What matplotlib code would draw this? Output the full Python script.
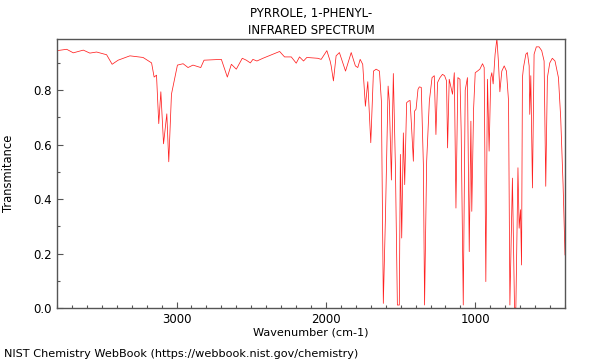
import matplotlib
matplotlib.use('Agg')
import matplotlib.pyplot as plt
from matplotlib.ticker import MultipleLocator, FormatStrFormatter

title = 'PYRROLE, 1-PHENYL-\nINFRARED SPECTRUM'
footer = 'NIST Chemistry WebBook (https://webbook.nist.gov/chemistry)'

wavenumber = [
    3800, 3735, 3691, 3624, 3580, 3535, 3468, 3431, 3391, 3312,
    3224, 3167, 3150, 3134, 3119, 3105, 3087, 3065, 3052, 3034,
    2994, 2956, 2923, 2890, 2838, 2816, 2700, 2660, 2633, 2600,
    2560, 2533, 2506, 2489, 2462, 2422, 2355, 2310, 2277, 2232,
    2199, 2177, 2150, 2128, 2055, 2032, 1994, 1972, 1965, 1950,
    1932, 1910, 1869, 1831, 1803, 1787, 1771, 1754, 1736, 1720,
    1700, 1682, 1664, 1642, 1629, 1616, 1602, 1584, 1576, 1562,
    1549, 1535, 1522, 1509, 1502, 1493, 1482, 1473, 1460, 1447,
    1437, 1428, 1415, 1407, 1397, 1384, 1375, 1362, 1348, 1340,
    1326, 1308, 1290, 1275, 1264, 1253, 1237, 1220, 1206, 1193,
    1186, 1175, 1153, 1141, 1130, 1117, 1103, 1095, 1081, 1068,
    1053, 1041, 1030, 1024, 1012, 1001, 986, 970, 952, 941,
    930, 919, 908, 897, 890, 881, 868, 856, 846, 836,
    823, 807, 792, 778, 769, 752, 738, 729, 715, 707,
    698, 691, 685, 678, 662, 652, 640, 636, 629, 618,
    607, 592, 574, 556, 540, 529, 518, 502, 485, 467,
    444, 429, 413, 400,
]
transmittance = [
    0.945, 0.950, 0.937, 0.947, 0.936, 0.940, 0.930, 0.895, 0.910, 0.926,
    0.920, 0.900, 0.848, 0.855, 0.677, 0.794, 0.603, 0.713, 0.537, 0.785,
    0.892, 0.897, 0.883, 0.892, 0.883, 0.910, 0.913, 0.848, 0.895, 0.877,
    0.917, 0.910, 0.900, 0.913, 0.907, 0.917, 0.932, 0.942, 0.922, 0.922,
    0.899, 0.922, 0.907, 0.920, 0.917, 0.913, 0.945, 0.907, 0.889, 0.834,
    0.926, 0.938, 0.870, 0.938, 0.889, 0.883, 0.913, 0.895, 0.741, 0.831,
    0.607, 0.870, 0.877, 0.870, 0.760, 0.017, 0.330, 0.815, 0.760, 0.470,
    0.861, 0.515, 0.011, 0.011, 0.564, 0.257, 0.643, 0.453, 0.754, 0.760,
    0.762, 0.674, 0.539, 0.723, 0.730, 0.803, 0.812, 0.810, 0.527, 0.011,
    0.539, 0.760, 0.846, 0.853, 0.637, 0.828, 0.846, 0.858, 0.853, 0.834,
    0.588, 0.840, 0.785, 0.864, 0.367, 0.846, 0.840, 0.650, 0.011, 0.800,
    0.846, 0.207, 0.686, 0.355, 0.730, 0.864, 0.870, 0.877, 0.897, 0.883,
    0.097, 0.840, 0.576, 0.846, 0.864, 0.823, 0.932, 0.990, 0.907, 0.794,
    0.870, 0.889, 0.870, 0.760, 0.011, 0.477, 0.000, 0.000, 0.515, 0.293,
    0.361, 0.158, 0.846, 0.883, 0.932, 0.938, 0.889, 0.711, 0.853, 0.441,
    0.932, 0.959, 0.959, 0.945, 0.907, 0.447, 0.846, 0.900, 0.917, 0.907,
    0.846, 0.699, 0.453, 0.195,
]

plt.rcParams['font.family'] = ['DejaVu Sans']
plt.rcParams['font.size'] = 8.5

fig = plt.figure(figsize=(6, 3.6), dpi=100)
ax = fig.add_axes([0.095, 0.1444, 0.8467, 0.7459])

ax.plot(wavenumber, transmittance, color='#ff2020', linewidth=0.55)

ax.set_xlim(3800, 400)
ax.set_ylim(0, 0.986)
ax.xaxis.set_major_locator(MultipleLocator(1000))
ax.xaxis.set_minor_locator(MultipleLocator(100))
ax.yaxis.set_major_locator(MultipleLocator(0.2))
ax.yaxis.set_minor_locator(MultipleLocator(0.1))
ax.yaxis.set_major_formatter(FormatStrFormatter('%.1f'))
ax.tick_params(which='both', direction='in', top=False, right=False, labelsize=8.5)
ax.tick_params(which='major', length=4, width=0.8, color='#555555')
ax.tick_params(which='minor', length=2, width=0.8, color='#555555')
for s in ax.spines.values():
    s.set_color('#555555')
    s.set_linewidth(1)

ax.set_xlabel('Wavenumber (cm-1)', fontsize=8.1, labelpad=1)
ax.set_ylabel('Transmitance', fontsize=8.3, labelpad=13)
ax.set_title(title, fontsize=8.5, pad=4, linespacing=1.4)
fig.text(0.007, 0.008, footer, fontsize=8.1)

fig.savefig('out.png', dpi=100)
plt.close(fig)
